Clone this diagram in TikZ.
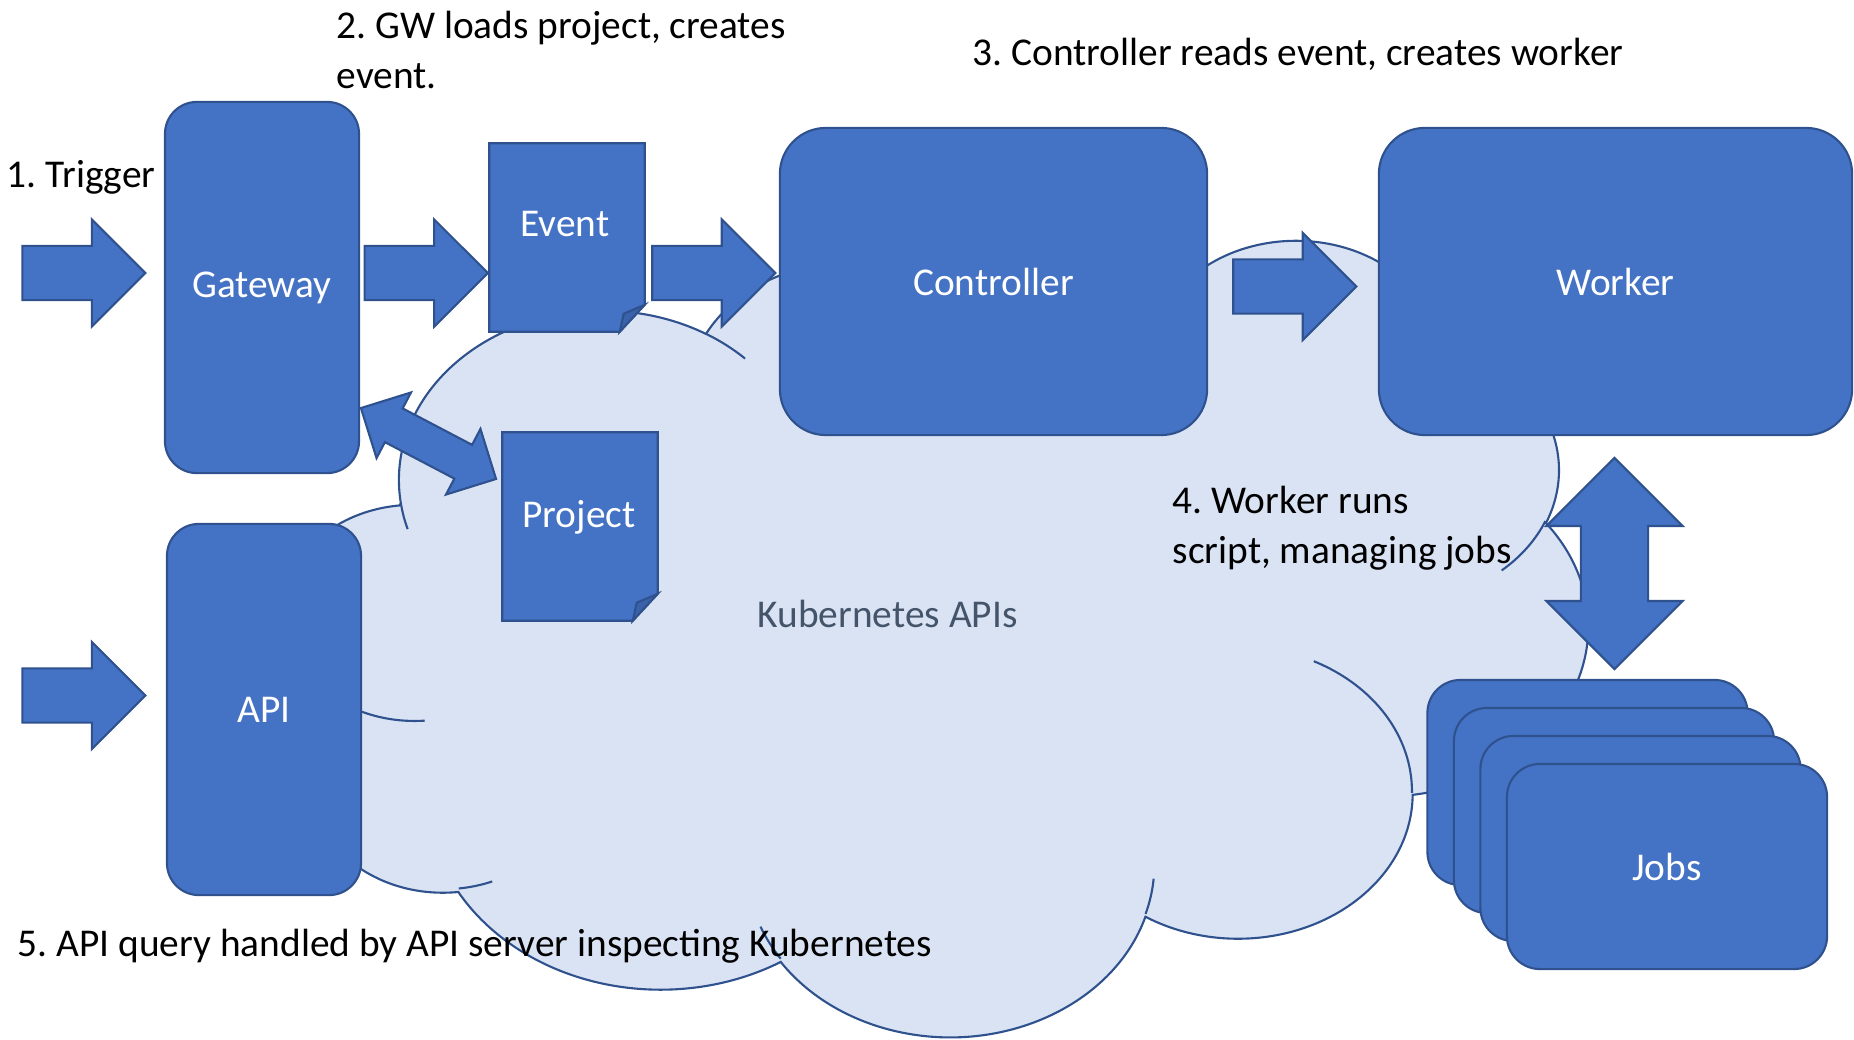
\documentclass[tikz,border=0pt]{standalone}
\usepackage{fontspec}
\setmainfont{Carlito}
\usetikzlibrary{shapes.arrows,calc,positioning}

\definecolor{boxblue}{HTML}{4472C4}
\definecolor{boxline}{HTML}{2F528F}
\definecolor{foldblue}{HTML}{3A62AA}
\definecolor{cloudfill}{HTML}{DAE3F3}
\definecolor{cloudrim}{HTML}{2F528F}
\definecolor{apigray}{HTML}{44546A}

\tikzset{
  txt/.style={font=\fontsize{11.2}{14.2}\selectfont\frenchspacing, inner sep=0pt},
  note/.style={txt, anchor=base west, align=left},
  filled/.style={fill=boxblue, draw=boxline, line width=0.6pt},
  rbox/.style={filled, txt, text=white, rounded corners=#1},
  docframe/.style={minimum width=1.54cm, minimum height=1.87cm, inner sep=0pt},
  blockarrow/.style={single arrow, filled, anchor=tip, inner xsep=0pt, inner ysep=0.26cm,
    minimum height=1.23cm, single arrow head extend=0.265cm},
  twoarrow/.style={double arrow, filled, inner xsep=0pt},
  rim/.style={draw=cloudrim, line width=0.6pt},
}
% visual angles of an Office arc turned into ellipse parameters
\pgfkeys{/pgf/foreach/ooangles/.style={
  evaluate={\st as \ts using atan2(\wr*sin(\st),\hr*cos(\st))},
  evaluate={\sw as \te using atan2(\wr*sin(\st+\sw),\hr*cos(\st+\sw))},
  evaluate={\sw as \dt using (\te)-(\ts)-360*round(((\te)-(\ts)-(\sw))/360)}}}

% folded page drawn over a named frame node
\newcommand{\docpage}[1]{%
  \filldraw[filled] (#1.north west) -- (#1.north east) -- ([yshift=0.27cm]#1.south east)
    -- ([xshift=-0.25cm]#1.south east) -- (#1.south west) -- cycle;
  \filldraw[fill=foldblue, draw=boxline, line width=0.6pt] ([yshift=0.27cm]#1.south east)
    -- ([xshift=-0.21cm,yshift=0.18cm]#1.south east) -- ([xshift=-0.25cm]#1.south east) -- cycle;}

\begin{document}
\begin{tikzpicture}[x=0.01cm, y=-0.01cm]
  \useasboundingbox (0,0) rectangle (1854,1039);

  % Kubernetes cloud
  \begin{scope}[shift={(283,238)}, x=0.30185cm, y=-0.18426cm]
    \filldraw[fill=cloudfill, rim] (3.900,14.370)
      \foreach \wr/\hr/\st/\sw [ooangles] in {
        6.753/9.190/-190.4875/123.7805, 5.333/7.267/-144.1024/89.9452,
        4.365/5.945/-145.8079/99.7230, 4.857/6.595/-130.9861/117.2417,
        5.333/7.273/-78.7089/109.0269, 6.775/9.220/-46.2673/130.2690,
        5.785/7.867/0.6250/114.0333, 6.752/9.215/22.4516/115.1726,
        7.720/10.543/66.2426/75.7110, 4.360/5.918/-274.9421/146.7356,
        4.345/5.945/-246.8285/152.5189}
      { arc[start angle=\ts, delta angle=\dt, x radius=\wr, y radius=\hr] } -- cycle;
    \foreach \px/\py/\wr/\hr/\st/\sw [ooangles] in {
        4.693/26.177/4.345/5.945/86.742/26.4295, 6.928/34.899/4.360/5.918/73.6105/11.4475,
        16.478/39.090/6.752/9.215/137.6242/14.0811, 28.827/34.751/6.752/9.215/6.4533/15.9984,
        34.129/22.954/5.785/7.867/-70.2924/70.9174, 41.798/15.354/5.333/7.273/30.3180/27.7515,
        38.324/5.426/4.857/6.595/-13.7443/14.8512, 29.078/3.952/4.857/6.595/-149.1815/18.1959,
        22.141/4.720/4.365/5.945/-163.4943/17.6864, 14.000/5.192/6.753/9.190/-66.7070/12.3194,
        4.127/15.789/6.753/9.190/157.6544/11.8582}
      \draw[rim] (\px,\py) arc[start angle=\ts, delta angle=\dt, x radius=\wr, y radius=\hr];
  \end{scope}
  \node[txt, text=apigray, anchor=base west] (kube) at (757,627) {Kubernetes APIs};

  % Components
  \node[rbox=0.32cm, minimum width=1.94cm, minimum height=3.71cm] (gateway) at (262,287.5) {Gateway};
  \node[rbox=0.32cm, minimum width=1.94cm, minimum height=3.71cm] (api) at (264,709.5) {API};
  \node[rbox=0.46cm, minimum width=4.27cm, minimum height=3.07cm] (controller) at (993.5,281.5) {Controller};
  \node[rbox=0.46cm, minimum width=4.73cm, minimum height=3.07cm] (worker) at (1615.5,281.5) {Worker};

  \node[docframe] (event) at (567,237.5) {};
  \docpage{event}
  \node[txt, text=white] (eventtxt) at ($(event)+(-2,-13)$) {Event};
  \node[docframe] (project) at (580,526.5) {};
  \docpage{project}
  \node[txt, text=white] (projecttxt) at ($(project)+(-1,-9.5)$) {Project};

  \foreach \i in {0,1,2}
    \node[rbox=0.33cm, minimum width=3.2cm, minimum height=2.05cm] (job\i) at ($(1587.5,782.5)+\i*(26.5,28)$) {};
  \node[rbox=0.33cm, minimum width=3.2cm, minimum height=2.05cm] (jobs) at ($(job2)+(26.5,28)$) {Jobs};

  % Block arrows
  \node[blockarrow] (trig) at ($(gateway.west)+(-17,-14.5)$) {};
  \node[blockarrow] (gw2ev) at ($(event.west)+(0,35.5)$) {};
  \node[blockarrow] (ev2ctl) at ($(controller.west)+(-2,-8.5)$) {};
  \node[blockarrow] (ctl2wk) at ($(worker.west)+(-20,5)$) {};
  \node[blockarrow] (query) at ($(api.west)+(-19,-14)$) {};
  \node[twoarrow, inner ysep=0.18cm, double arrow head extend=0.18cm,
    minimum height=1.525cm, rotate=-27.7] (gw2proj) at (428.5,443.5) {};
  \node[twoarrow, inner ysep=0.325cm, double arrow head extend=0.345cm,
    minimum height=2.11cm, rotate=90] (wk2jobs) at (1614.5,563.5) {};

  % Steps
  \node[note] (step1) at (6,187) {1. Trigger};
  \node[note] (step2) at (336,88) {2. GW loads project, creates\\event.};
  \node[note] (step3) at (972,65) {3. Controller reads event, creates worker};
  \node[note] (step4) at (1172,563) {4. Worker runs\\script, managing jobs};
  \node[note] (step5) at (17,956) {5. API query handled by API server inspecting Kubernetes};
\end{tikzpicture}
\end{document}
